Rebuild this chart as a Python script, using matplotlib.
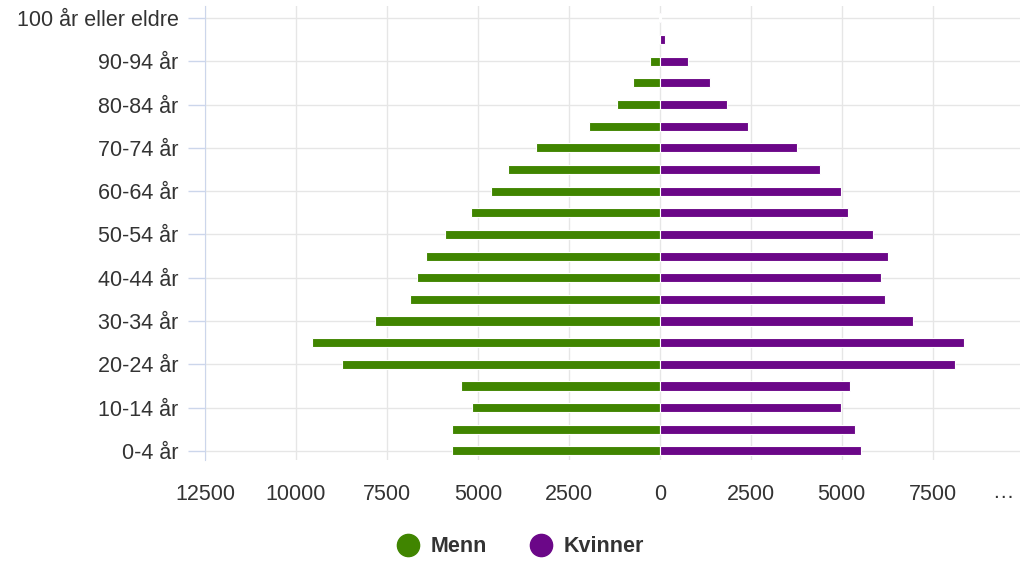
import matplotlib.pyplot as plt
from matplotlib.lines import Line2D
import numpy as np

plt.rcParams['font.family'] = ['Liberation Sans', 'DejaVu Sans']

age_groups = ['0-4 år', '5-9 år', '10-14 år', '15-19 år', '20-24 år', '25-29 år',
              '30-34 år', '35-39 år', '40-44 år', '45-49 år', '50-54 år', '55-59 år',
              '60-64 år', '65-69 år', '70-74 år', '75-79 år', '80-84 år', '85-89 år',
              '90-94 år', '95-99 år', '100 år eller eldre']
menn = [5700, 5700, 5170, 5460, 8730, 9550, 7820, 6860, 6660, 6420, 5890, 5180,
        4650, 4160, 3400, 1940, 1180, 740, 260, 30, 10]
kvinner = [5520, 5370, 4990, 5220, 8110, 8350, 6960, 6180, 6090, 6280, 5850, 5180,
           4990, 4400, 3770, 2430, 1850, 1370, 770, 140, 30]
xticks = [-12500, -10000, -7500, -5000, -2500, 0, 2500, 5000, 7500]

green = '#408500'
purple = '#6b0788'
text_col = '#333333'

fig = plt.figure(figsize=(10.23, 5.62), dpi=100)
ax = fig.add_axes([205 / 1023, 102 / 562, 815 / 1023, 454 / 562])

y = np.arange(len(age_groups))
ax.barh(y, [-m for m in menn], height=0.42, color=green, edgecolor='white', linewidth=0.8, zorder=3)
ax.barh(y, kvinner, height=0.42, color=purple, edgecolor='white', linewidth=0.8, zorder=3)

ax.set_xlim(-12500, 9900)
ax.set_ylim(-0.42, 20.55)

ax.set_xticks(xticks)
ax.set_xticklabels([str(abs(t)) for t in xticks])
ax.tick_params(axis='x', length=0, pad=17, labelsize=15.5, labelcolor=text_col)
# the last tick label (10000) does not fit and is shown shortened
ax.text(1003 / 1023, (562 - 492) / 562, '…', transform=fig.transFigure, ha='center', va='center',
        fontsize=15.5, color=text_col)

ax.set_yticks(y[::2])
ax.set_yticklabels(age_groups[::2])
ax.tick_params(axis='y', length=12, width=1, color='#ccd6eb', pad=7, labelsize=15.5,
               labelcolor=text_col)

ax.grid(True, color='#e6e6e6', linewidth=1)
ax.set_axisbelow(True)
for side in ['top', 'right', 'bottom']:
    ax.spines[side].set_visible(False)
ax.spines['left'].set_color('#ccd6eb')
ax.spines['left'].set_zorder(4)

handles = [Line2D([], [], marker='o', linestyle='', markersize=16, color=green, label='Menn'),
           Line2D([], [], marker='o', linestyle='', markersize=16, color=purple, label='Kvinner')]
fig.legend(handles=handles, loc='center', bbox_to_anchor=(515 / 1023, 15 / 562), ncol=2,
           frameon=False, handletextpad=0.05, columnspacing=1.5,
           prop={'weight': 'bold', 'size': 15.5}, labelcolor=text_col)

fig.savefig('out.png', dpi=100)
